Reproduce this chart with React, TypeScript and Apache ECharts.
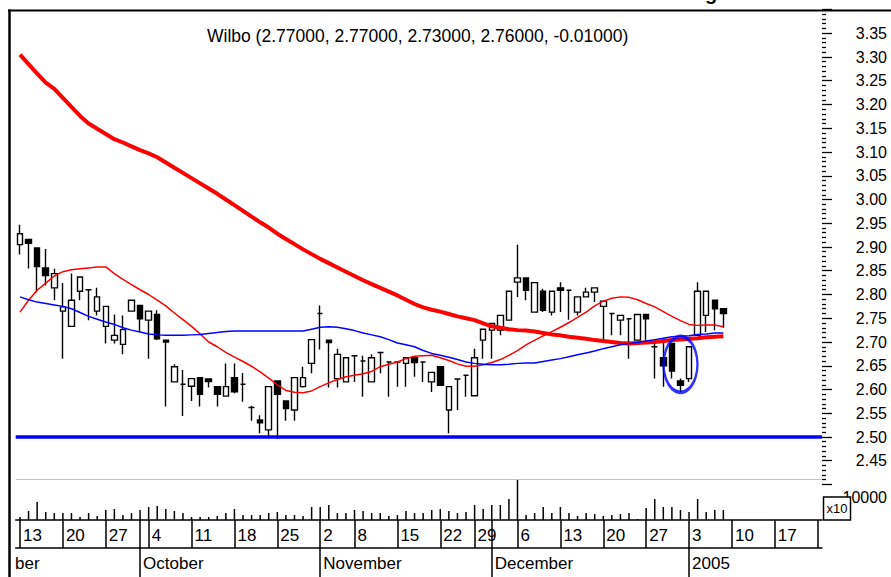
import { useEffect, useRef } from 'react';
import * as echarts from 'echarts';

const dates = [
  '2004-09-13','2004-09-14','2004-09-15','2004-09-16','2004-09-17','2004-09-20','2004-09-21','2004-09-22','2004-09-23','2004-09-24',
  '2004-09-27','2004-09-28','2004-09-29','2004-09-30','2004-10-01','2004-10-04','2004-10-05','2004-10-06','2004-10-07','2004-10-08',
  '2004-10-11','2004-10-12','2004-10-13','2004-10-14','2004-10-15','2004-10-18','2004-10-19','2004-10-20','2004-10-21','2004-10-22',
  '2004-10-25','2004-10-26','2004-10-27','2004-10-28','2004-10-29','2004-11-02','2004-11-03','2004-11-04','2004-11-05','2004-11-08',
  '2004-11-09','2004-11-10','2004-11-11','2004-11-12','2004-11-15','2004-11-16','2004-11-17','2004-11-18','2004-11-19','2004-11-22',
  '2004-11-23','2004-11-24','2004-11-26','2004-11-29','2004-11-30','2004-12-01','2004-12-02','2004-12-03','2004-12-06','2004-12-07',
  '2004-12-08','2004-12-09','2004-12-10','2004-12-13','2004-12-14','2004-12-15','2004-12-16','2004-12-17','2004-12-20','2004-12-21',
  '2004-12-22','2004-12-23','2004-12-24','2004-12-27','2004-12-28','2004-12-29','2004-12-30','2004-12-31','2005-01-03','2005-01-04',
  '2005-01-05','2005-01-06','2005-01-07','2005-01-10','2005-01-11','2005-01-12','2005-01-13','2005-01-14','2005-01-17','2005-01-18',
  '2005-01-19','2005-01-20','2005-01-21','2005-01-24',
];

const opens = [
  2.905, 2.916, 2.898, 2.856, 2.814, 2.765, 2.733, 2.807, 2.810, 2.765,
  2.733, 2.704, 2.695, 2.765, 2.777, 2.746, 2.758, 2.704, 2.616, 2.611,
  2.607, 2.625, 2.622, 2.606, 2.586, 2.625, 2.611, 2.562, 2.536, 2.515,
  2.618, 2.576, 2.557, 2.606, 2.655, 2.760, 2.704, 2.623, 2.616, 2.671,
  2.660, 2.616, 2.678, 2.658, 2.658, 2.655, 2.667, 2.658, 2.616, 2.648,
  2.557, 2.622, 2.630, 2.587, 2.704, 2.725, 2.725, 2.746, 2.826, 2.835,
  2.763, 2.807, 2.763, 2.814, 2.809, 2.763, 2.795, 2.805, 2.775, 2.760,
  2.746, 2.749, 2.704, 2.758, 2.690, 2.667, 2.697, 2.618, 2.623, 2.714,
  2.756, 2.788, 2.770,
];
const highs = [
  2.947, 2.916, 2.898, 2.896, 2.854, 2.824, 2.844, 2.837, 2.810, 2.814,
  2.775, 2.758, 2.756, 2.788, 2.777, 2.765, 2.767, 2.704, 2.653, 2.641,
  2.623, 2.625, 2.622, 2.606, 2.655, 2.655, 2.635, 2.566, 2.546, 2.606,
  2.618, 2.576, 2.625, 2.648, 2.705, 2.777, 2.704, 2.686, 2.667, 2.671,
  2.671, 2.674, 2.678, 2.658, 2.658, 2.667, 2.667, 2.658, 2.636, 2.648,
  2.606, 2.622, 2.630, 2.686, 2.727, 2.739, 2.756, 2.807, 2.905, 2.835,
  2.825, 2.812, 2.807, 2.826, 2.809, 2.795, 2.814, 2.814, 2.786, 2.760,
  2.756, 2.749, 2.758, 2.758, 2.700, 2.700, 2.697, 2.623, 2.690, 2.826,
  2.807, 2.788, 2.770,
];
const lows = [
  2.884, 2.855, 2.805, 2.819, 2.788, 2.665, 2.733, 2.788, 2.746, 2.756,
  2.697, 2.697, 2.674, 2.765, 2.721, 2.665, 2.704, 2.564, 2.616, 2.544,
  2.576, 2.564, 2.604, 2.564, 2.586, 2.592, 2.574, 2.534, 2.508, 2.497,
  2.496, 2.534, 2.534, 2.604, 2.634, 2.684, 2.604, 2.604, 2.616, 2.616,
  2.585, 2.616, 2.634, 2.585, 2.606, 2.606, 2.627, 2.616, 2.595, 2.609,
  2.508, 2.557, 2.585, 2.587, 2.665, 2.665, 2.714, 2.746, 2.795, 2.788,
  2.763, 2.763, 2.756, 2.763, 2.747, 2.756, 2.795, 2.784, 2.704, 2.714,
  2.714, 2.665, 2.704, 2.704, 2.623, 2.606, 2.623, 2.595, 2.616, 2.714,
  2.721, 2.725, 2.730,
];
const closes = [
  2.928, 2.908, 2.859, 2.840, 2.844, 2.774, 2.788, 2.837, 2.810, 2.795,
  2.775, 2.714, 2.726, 2.788, 2.749, 2.765, 2.707, 2.700, 2.648, 2.611,
  2.623, 2.590, 2.617, 2.590, 2.606, 2.595, 2.611, 2.562, 2.530, 2.606,
  2.590, 2.560, 2.625, 2.625, 2.705, 2.760, 2.699, 2.674, 2.667, 2.671,
  2.660, 2.667, 2.678, 2.658, 2.658, 2.667, 2.657, 2.658, 2.636, 2.609,
  2.606, 2.622, 2.630, 2.667, 2.727, 2.739, 2.756, 2.807, 2.835, 2.809,
  2.825, 2.767, 2.807, 2.809, 2.809, 2.795, 2.805, 2.814, 2.786, 2.760,
  2.756, 2.749, 2.758, 2.749, 2.690, 2.650, 2.639, 2.609, 2.690, 2.807,
  2.807, 2.770, 2.760,
];
const volumes = [
  13300, 40000, 80000, 35600, 31100, 31100, 31100, 13300, 31100, 17800,
  44400, 48900, 22200, 31100, 44400, 57800, 62200, 48900, 40000, 31100,
  13300, 13300, 13300, 17800, 31100, 48900, 22200, 22200, 22200, 31100,
  35600, 22200, 22200, 17800, 57800, 57800, 66700, 31100, 31100, 44400,
  40000, 31100, 31100, 17800, 22200, 40000, 31100, 31100, 44400, 48900,
  40000, 31100, 35600, 66700, 48900, 66700, 66700, 93300, 177800, 22200,
  31100, 57800, 31100, 57800, 31100, 17800, 31100, 26700, 17800, 22200,
  26700, 31100, 4400, 53300, 93300, 57800, 57800, 44400, 35600, 93300,
  35600, 44400, 44400,
];
const maLong = [
  3.305, 3.285, 3.265, 3.246, 3.233, 3.214, 3.195, 3.176, 3.160, 3.149,
  3.138, 3.127, 3.120, 3.112, 3.104, 3.097, 3.089, 3.078, 3.067, 3.056,
  3.045, 3.034, 3.023, 3.012, 3.000, 2.988, 2.976, 2.964, 2.952, 2.941,
  2.928, 2.917, 2.906, 2.895, 2.885, 2.875, 2.866, 2.857, 2.848, 2.839,
  2.830, 2.822, 2.814, 2.806, 2.798, 2.789, 2.780, 2.773, 2.768, 2.764,
  2.759, 2.754, 2.750, 2.746, 2.739, 2.733, 2.730, 2.727, 2.725, 2.724,
  2.722, 2.719, 2.716, 2.714, 2.711, 2.709, 2.707, 2.704, 2.702, 2.700,
  2.698, 2.697, 2.698, 2.699, 2.700, 2.702, 2.704, 2.705, 2.707, 2.708,
  2.710, 2.711, 2.712,
];
const maShort = [
  2.763, 2.788, 2.809, 2.824, 2.839, 2.848, 2.852, 2.854, 2.856, 2.858,
  2.858, 2.844, 2.832, 2.821, 2.810, 2.800, 2.788, 2.776, 2.761, 2.747,
  2.733, 2.717, 2.700, 2.690, 2.678, 2.668, 2.659, 2.649, 2.637, 2.624,
  2.610, 2.598, 2.594, 2.593, 2.597, 2.606, 2.614, 2.621, 2.627, 2.630,
  2.633, 2.638, 2.648, 2.653, 2.658, 2.665, 2.670, 2.671, 2.672, 2.667,
  2.661, 2.654, 2.649, 2.649, 2.652, 2.657, 2.663, 2.672, 2.682, 2.694,
  2.704, 2.713, 2.722, 2.731, 2.741, 2.752, 2.763, 2.776, 2.786, 2.792,
  2.795, 2.794, 2.789, 2.781, 2.774, 2.764, 2.754, 2.745, 2.737, 2.735,
  2.736, 2.736, 2.732,
];
const maMid = [
  2.795, 2.789, 2.784, 2.781, 2.778, 2.775, 2.770, 2.762, 2.754, 2.748,
  2.742, 2.737, 2.730, 2.725, 2.721, 2.717, 2.715, 2.714, 2.714, 2.714,
  2.715, 2.716, 2.718, 2.720, 2.722, 2.723, 2.723, 2.723, 2.723, 2.723,
  2.723, 2.723, 2.723, 2.723, 2.727, 2.731, 2.732, 2.731, 2.728, 2.724,
  2.719, 2.715, 2.711, 2.705, 2.698, 2.694, 2.690, 2.682, 2.676, 2.672,
  2.668, 2.663, 2.658, 2.655, 2.653, 2.652, 2.652, 2.653, 2.655, 2.656,
  2.656, 2.659, 2.662, 2.665, 2.669, 2.673, 2.677, 2.681, 2.686, 2.690,
  2.694, 2.697, 2.699, 2.702, 2.705, 2.708, 2.711, 2.712, 2.713, 2.716,
  2.717, 2.719, 2.719,
];
const supportLevel = 2.5;
const highlightPoint = [77, 2.653];
const titleText = 'Wilbo (2.77000, 2.77000, 2.73000, 2.76000, -0.01000)';
const monthNames = ['January','February','March','April','May','June','July','August','September','October','November','December'];
const priceMin = 2.4;
const priceMax = 3.4;
const priceStep = 0.05;
const volumeMax = 182000;
const volumeStep = 100000;

const FONT = 'Liberation Sans, Arial, Helvetica, sans-serif';

export default function App() {
  const ref = useRef<HTMLDivElement>(null);

  useEffect(() => {
    if (!ref.current) return;
    const chart = echarts.init(ref.current, null, { renderer: 'svg' });

    const parsed = dates.map((s) => new Date(s + 'T00:00:00Z'));
    const isWeekStart = (i: number) =>
      i === 0 ||
      parsed[i].getUTCDay() <= parsed[i - 1].getUTCDay() ||
      parsed[i].getTime() - parsed[i - 1].getTime() >= 7 * 864e5;
    const isMonthStart = (i: number) => i > 0 && parsed[i].getUTCMonth() !== parsed[i - 1].getUTCMonth();
    const lastIdx = dates.length - 1;

    const pad = (arr: number[]) => dates.map((_, i) => (i < arr.length ? arr[i] : '-'));
    const candles = dates.map((_, i) =>
      i < opens.length ? [opens[i], closes[i], lows[i], highs[i]] : '-'
    );

    const gridLeft = 15.7;
    const gridRight = 69;
    const plotRightX = 891 - gridRight;

    const option: any = {
      animation: false,
      backgroundColor: '#ffffff',
      textStyle: { fontFamily: FONT, color: '#000' },
      title: {
        text: titleText,
        left: 207,
        top: 27,
        padding: 0,
        textStyle: { fontSize: 17.5, fontWeight: 'normal', color: '#000', fontFamily: FONT },
      },
      grid: [
        { left: gridLeft, right: gridRight, top: 9.5, height: 475, outerBoundsMode: 'none' },
        { left: gridLeft, right: gridRight, top: 479, height: 41, outerBoundsMode: 'none' },
      ],
      xAxis: [
        { type: 'category', gridIndex: 0, data: dates, show: false, boundaryGap: true },
        {
          type: 'category',
          gridIndex: 1,
          data: dates,
          position: 'bottom',
          boundaryGap: true,
          axisLine: { show: true, onZero: false, lineStyle: { color: '#000', width: 1.5 } },
          axisTick: {
            show: true,
            alignWithLabel: true,
            interval: (i: number) => isWeekStart(i) || isMonthStart(i),
            length: 28,
            lineStyle: { color: '#000', width: 1.5 },
          },
          axisLabel: {
            show: true,
            interval: (i: number) => isWeekStart(i) && i < lastIdx,
            formatter: (v: string) => String(Number(v.slice(8))),
            align: 'left',
            verticalAlign: 'middle',
            margin: 15,
            padding: [0, 0, 0, 3],
            fontSize: 17,
            color: '#000',
            fontFamily: FONT,
          },
          splitLine: { show: false },
        },
        {
          type: 'category',
          gridIndex: 1,
          data: dates,
          position: 'bottom',
          offset: 28,
          boundaryGap: true,
          axisLine: { show: true, onZero: false, lineStyle: { color: '#000', width: 1.5 } },
          axisTick: {
            show: true,
            alignWithLabel: true,
            interval: (i: number) => isMonthStart(i),
            length: 30,
            lineStyle: { color: '#000', width: 1.5 },
          },
          axisLabel: {
            show: true,
            interval: (i: number) => isMonthStart(i),
            formatter: (v: string) => {
              const d = new Date(v + 'T00:00:00Z');
              return d.getUTCMonth() === 0 ? String(d.getUTCFullYear()) : monthNames[d.getUTCMonth()];
            },
            align: 'left',
            verticalAlign: 'middle',
            margin: 15,
            padding: [0, 0, 0, 3],
            fontSize: 17,
            color: '#000',
            fontFamily: FONT,
          },
          splitLine: { show: false },
        },
      ],
      yAxis: [
        {
          type: 'value',
          gridIndex: 0,
          position: 'right',
          min: priceMin,
          max: priceMax,
          interval: priceStep,
          axisLine: { show: false },
          axisTick: { show: true, length: 10, lineStyle: { color: '#000', width: 1.3 } },
          minorTick: { show: true, splitNumber: 5, length: 4, lineStyle: { color: '#000', width: 1.3 } },
          splitLine: { show: false },
          minorSplitLine: { show: false },
          axisLabel: {
            formatter: (v: number) => (v > 2.449 && v < 3.351 ? v.toFixed(2) : ''),
            align: 'right',
            margin: 65,
            fontSize: 16,
            color: '#000',
            fontFamily: FONT,
          },
        },
        {
          type: 'value',
          gridIndex: 1,
          position: 'right',
          min: 0,
          max: volumeMax,
          interval: volumeStep,
          axisLine: { show: false },
          axisTick: { show: false },
          splitLine: { show: false },
          axisLabel: {
            formatter: (v: number) => (v === volumeStep ? String(v / 10) : ''),
            align: 'right',
            margin: 65,
            fontSize: 16,
            color: '#000',
            fontFamily: FONT,
          },
        },
      ],
      series: [
        {
          type: 'candlestick',
          xAxisIndex: 0,
          yAxisIndex: 0,
          data: candles,
          barWidth: 6,
          itemStyle: {
            color: '#ffffff',
            color0: '#000000',
            borderColor: '#000000',
            borderColor0: '#000000',
            borderWidth: 1.4,
          },
          markLine: {
            silent: true,
            symbol: ['none', 'none'],
            label: { show: false },
            lineStyle: { color: '#0000ff', width: 3.5, type: 'solid' },
            data: [{ yAxis: supportLevel }],
          },
        },
        {
          type: 'line',
          xAxisIndex: 0,
          yAxisIndex: 0,
          data: pad(maLong),
          showSymbol: false,
          symbol: 'none',
          lineStyle: { color: '#ff0000', width: 4 },
        },
        {
          type: 'line',
          xAxisIndex: 0,
          yAxisIndex: 0,
          data: pad(maShort),
          showSymbol: false,
          symbol: 'none',
          lineStyle: { color: '#ff0000', width: 1.5 },
        },
        {
          type: 'line',
          xAxisIndex: 0,
          yAxisIndex: 0,
          data: pad(maMid),
          showSymbol: false,
          symbol: 'none',
          lineStyle: { color: '#0000ff', width: 1.5 },
        },
        {
          type: 'scatter',
          xAxisIndex: 0,
          yAxisIndex: 0,
          data: [highlightPoint],
          symbol: 'circle',
          symbolSize: [34, 56],
          itemStyle: { color: 'rgba(0,0,0,0)', borderColor: '#0000ff', borderWidth: 3 },
          z: 5,
        },
        {
          type: 'bar',
          xAxisIndex: 1,
          yAxisIndex: 1,
          data: pad(volumes),
          barWidth: 1.5,
          itemStyle: { color: '#000' },
        },
      ],
      graphic: [
        {
          type: 'line',
          shape: { x1: 8, y1: 10.5, x2: 891, y2: 10.5 },
          style: { stroke: '#000', lineWidth: 2 },
          z: 50,
        },
        {
          type: 'line',
          shape: { x1: 9.5, y1: 9.5, x2: 9.5, y2: 577 },
          style: { stroke: '#000', lineWidth: 2.5 },
          z: 50,
        },
        {
          type: 'line',
          shape: { x1: gridLeft, y1: 479.5, x2: plotRightX, y2: 479.5 },
          style: { stroke: '#c4c4c4', lineWidth: 1 },
          z: 1,
        },
        {
          type: 'rect',
          shape: { x: 823.5, y: 497, width: 27, height: 23 },
          style: { fill: '#fff', stroke: '#000', lineWidth: 1.5 },
          z: 100,
        },
        {
          type: 'text',
          x: 837,
          y: 508.5,
          style: { text: 'x10', fontSize: 13, fontFamily: FONT, fill: '#000', align: 'center', verticalAlign: 'middle' },
          z: 101,
        },
        {
          type: 'text',
          x: 15,
          y: 563,
          style: { text: 'ber', fontSize: 17, fontFamily: FONT, fill: '#000', align: 'left', verticalAlign: 'middle' },
          z: 50,
        },
        {
          type: 'text',
          x: 705,
          y: -17,
          style: { text: 'g', fontSize: 20, fontWeight: 'bold', fontFamily: FONT, fill: '#000', align: 'left', verticalAlign: 'top' },
          z: 50,
        },
      ],
    };

    chart.setOption(option);
    return () => chart.dispose();
  }, []);

  return (
    <div
      ref={ref}
      style={{ position: 'fixed', left: 0, top: 0, width: 891, height: 577, background: '#fff' }}
    />
  );
}
